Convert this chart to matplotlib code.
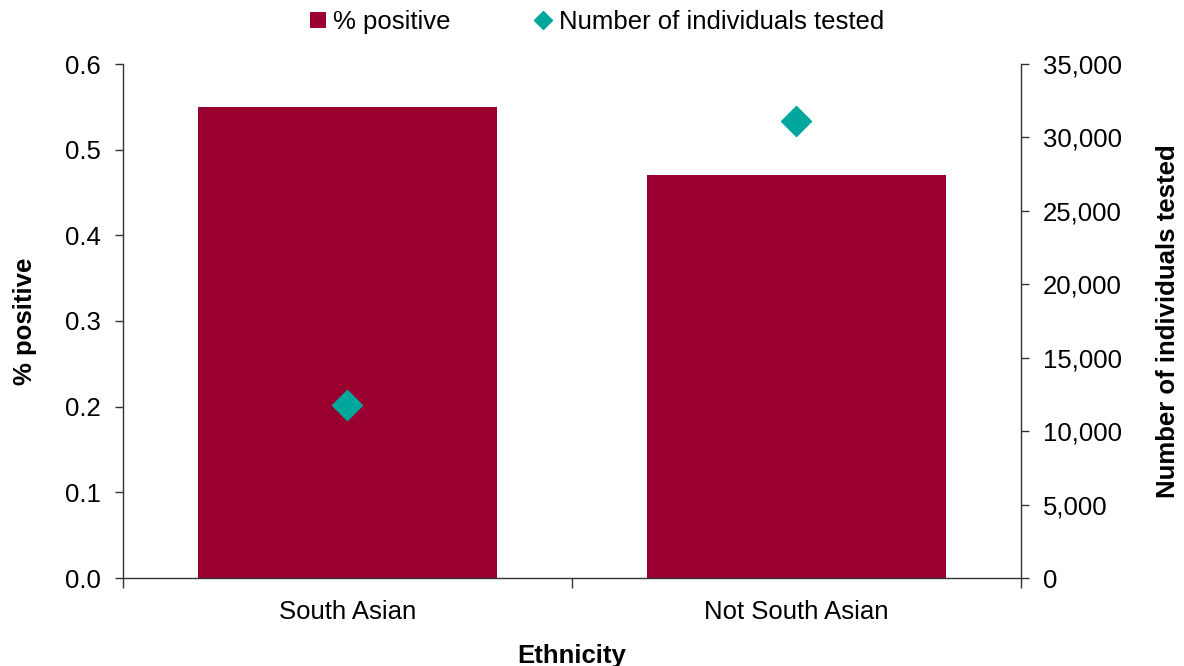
import matplotlib
matplotlib.use("Agg")
import matplotlib.pyplot as plt
from matplotlib.lines import Line2D
from matplotlib.patches import Patch
from matplotlib.ticker import FuncFormatter, FixedLocator

plt.rcParams['font.family'] = ['Liberation Sans', 'DejaVu Sans']

categories = ["South Asian", "Not South Asian"]
pct_positive = [0.55, 0.47]
n_tested = [11800, 31100]

bar_color = "#990030"
marker_color = "#00A79D"
FS = 18.5

fig = plt.figure(figsize=(11.84, 6.66), dpi=100)
ax = fig.add_axes([123/1184, 1 - 578/666, (1021-123)/1184, (578-64)/666])
ax2 = ax.twinx()

x = list(range(len(categories)))
ax.bar(x, pct_positive, width=0.667, color=bar_color, zorder=2)
ax2.plot(x, n_tested, linestyle="none", marker="D", markersize=15,
         color=marker_color, zorder=3)

ax.set_xlim(-0.5, len(categories) - 0.5)
ax.set_ylim(0, 0.6)
ax2.set_ylim(0, 35000)
ax.set_yticks([0, 0.1, 0.2, 0.3, 0.4, 0.5, 0.6])
ax.yaxis.set_major_formatter(FuncFormatter(lambda v, p: f"{v:.1f}"))
ax2.set_yticks(range(0, 35001, 5000))
ax2.yaxis.set_major_formatter(FuncFormatter(lambda v, p: f"{int(v):,}"))

ax.set_xticks(x)
ax.set_xticklabels(categories)
ax.xaxis.set_minor_locator(FixedLocator([-0.5, 0.5, 1.5]))
ax.tick_params(axis="x", which="major", length=0, pad=16, labelsize=FS)
ax.tick_params(axis="x", which="minor", length=7, width=1, direction="out", color="#333333")
ax.tick_params(axis="y", length=6, width=1, direction="out", labelsize=FS, pad=10, color="#333333")
ax2.tick_params(axis="y", length=6, width=1, direction="out", labelsize=FS, pad=10, color="#333333")

for a in (ax, ax2):
    a.spines["top"].set_visible(False)
    for s in ("left", "right", "bottom"):
        a.spines[s].set_color("#333333")
        a.spines[s].set_linewidth(1)
ax.spines["right"].set_visible(False)
ax2.spines["left"].set_visible(False)
ax2.spines["bottom"].set_visible(False)

ax.set_xlabel("Ethnicity", fontsize=FS, fontweight="bold", labelpad=14)
ax.set_ylabel("% positive", fontsize=FS, fontweight="bold", labelpad=20)
ax2.set_ylabel("Number of individuals tested", fontsize=FS, fontweight="bold", labelpad=24)

handles = [
    Patch(facecolor=bar_color, edgecolor="none"),
    Line2D([], [], linestyle="none", marker="D", markersize=9, color=marker_color),
]
fig.legend(handles, ["% positive", "Number of individuals tested"],
           loc="center", bbox_to_anchor=(597/1184, 1 - 22/666), ncol=2,
           frameon=False, fontsize=FS, handlelength=0.6, handleheight=0.6,
           handletextpad=0.3, columnspacing=3.3)

fig.savefig("out.png", dpi=100)
